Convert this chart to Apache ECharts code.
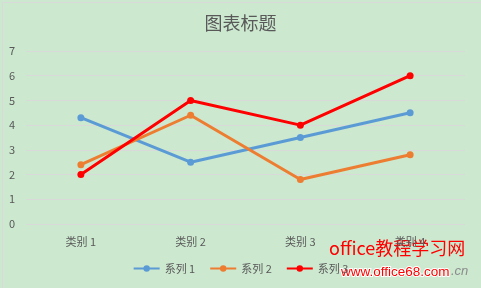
<!DOCTYPE html>
<html><head><meta charset="utf-8">
<script src="https://cdn.jsdelivr.net/npm/echarts@6/dist/echarts.min.js"></script>
<style>html,body{margin:0;padding:0;background:#fff}#c{width:481px;height:288px}</style>
</head><body><div id="c"></div>
<script>
const categories = ['类别 1', '类别 2', '类别 3', '类别 4'];
const series1 = [4.3, 2.5, 3.5, 4.5];
const series2 = [2.4, 4.4, 1.8, 2.8];
const series3 = [2, 5, 4, 6];
const seriesNames = ['系列 1', '系列 2', '系列 3'];
const yTicks = [0, 7, 1];

const chart = echarts.init(document.getElementById('c'));
const font = '"Microsoft YaHei","Noto Sans CJK SC",sans-serif';
function line(name, data, color) {
  return {
    name, type: 'line', data, symbol: 'circle', symbolSize: 7,
    lineStyle: { color, width: 3 }, itemStyle: { color },
    emphasis: { disabled: true }
  };
}
chart.setOption({
  animation: false,
  backgroundColor: '#CCE8CF',
  textStyle: { fontFamily: font },
  title: {
    text: '图表标题', left: 'center', top: 9,
    textStyle: { fontSize: 18, fontWeight: 'normal', color: '#595959', fontFamily: font }
  },
  grid: { left: 26, right: 16, top: 51, bottom: 64 },
  xAxis: {
    type: 'category', data: categories, boundaryGap: true,
    axisLine: { show: false }, axisTick: { show: false },
    axisLabel: { color: '#595959', fontSize: 11, margin: 12, fontFamily: font }
  },
  yAxis: {
    type: 'value', min: yTicks[0], max: yTicks[1], interval: yTicks[2],
    axisLine: { show: false }, axisTick: { show: false },
    axisLabel: { color: '#595959', fontSize: 11, margin: 13, align: 'left', padding: [0, 0, 0, -4], fontFamily: font },
    splitLine: { lineStyle: { color: '#D9D9D9', width: 1 } }
  },
  legend: {
    bottom: 9, left: 'center', itemWidth: 26, itemHeight: 8, itemGap: 14,
    textStyle: { color: '#595959', fontSize: 11, fontFamily: font },
    data: seriesNames
  },
  series: [
    line(seriesNames[0], series1, '#5B9BD5'),
    line(seriesNames[1], series2, '#ED7D31'),
    line(seriesNames[2], series3, '#FF0000')
  ],
  graphic: [
    { type: 'rect', left: 0, top: 0, shape: { width: 480, height: 287 }, style: { fill: 'none', stroke: '#D9D9D9', lineWidth: 1 }, silent: true },
    { type: 'text', left: 329, top: 239, style: { text: 'office教程学习网', fill: '#FF0000', font: '18px "Noto Sans CJK SC", sans-serif' }, silent: true },
    { type: 'text', left: 340, top: 264, style: { text: 'www.office68.com', fill: '#FF0000', stroke: '#ffffff', lineWidth: 2, font: '13.5px "Liberation Sans", Arial, sans-serif' }, silent: true },
    { type: 'text', left: 451, top: 265, style: { text: '.cn', fill: '#8C8C8C', font: 'italic 13px "Liberation Sans", Arial, sans-serif' }, silent: true }
  ]
});
</script></body></html>
